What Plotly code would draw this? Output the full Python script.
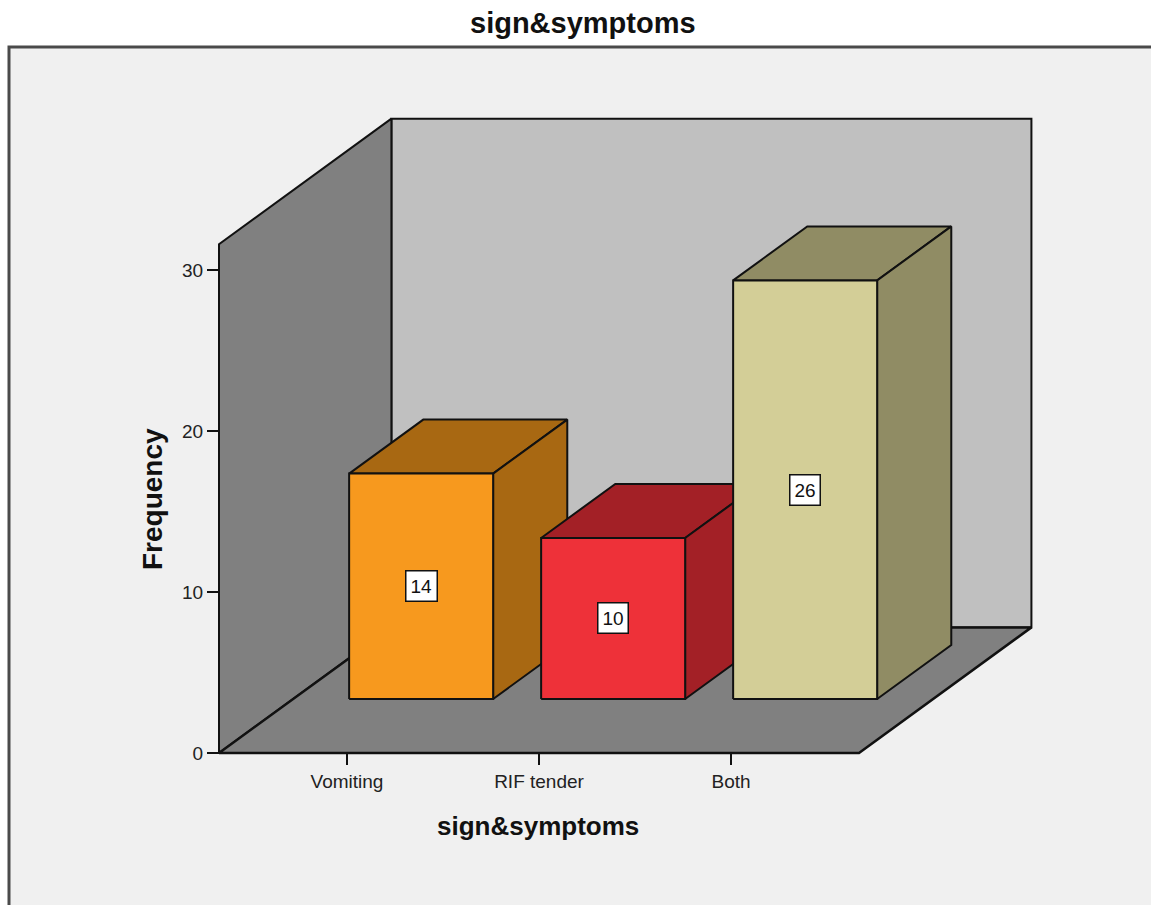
import plotly.graph_objects as go

# ---- data ----
categories = ["Vomiting", "RIF tender", "Both"]
frequency = [14, 10, 26]
y_ticks = [0, 10, 20, 30]

# ---- styling ----
front_colors = ["#f7991e", "#ee3139", "#d3ce97"]
shade_colors = ["#a86812", "#a32026", "#908c64"]
WALL_LEFT = "#808080"
WALL_BACK = "#c0c0c0"
FLOOR = "#808080"
EDGE = "#111111"
FONT = "Liberation Sans, Arial, sans-serif"

# ---- 3D box geometry (in axis units) ----
WALL_TOP = 31.6          # height of the chart box
DEPTH_X = 0.898          # oblique depth shift along x
DEPTH_Y = 7.80           # oblique depth shift along y
FLOOR_X0, FLOOR_X1 = -2 / 3, 2 + 2 / 3
BAR_W = 0.75
BAR_FRONT = 0.43         # depth fraction of bar front face
BAR_BACK = 0.86          # depth fraction of bar back face

X_MIN, X_MAX = -0.75, 3.7083
Y_MIN, Y_MAX = -0.5, 40.0

W, H = 1151, 905
M = dict(l=203, r=92, t=109, b=144)


def px_x(px):
    return (px - M["l"]) / (W - M["l"] - M["r"])


def px_y(py):
    return (H - M["b"] - py) / (H - M["t"] - M["b"])


def face(xs, ys, fill, lw=2.0):
    return go.Scatter(
        x=xs + [xs[0]], y=ys + [ys[0]], mode="lines", fill="toself",
        fillcolor=fill, line=dict(color=EDGE, width=lw),
        hoverinfo="skip", showlegend=False,
    )


fig = go.Figure()

# back wall
fig.add_trace(face(
    [FLOOR_X0 + DEPTH_X, FLOOR_X1 + DEPTH_X, FLOOR_X1 + DEPTH_X, FLOOR_X0 + DEPTH_X],
    [DEPTH_Y, DEPTH_Y, WALL_TOP + DEPTH_Y, WALL_TOP + DEPTH_Y], WALL_BACK))
# left wall
fig.add_trace(face(
    [FLOOR_X0, FLOOR_X0 + DEPTH_X, FLOOR_X0 + DEPTH_X, FLOOR_X0],
    [0, DEPTH_Y, WALL_TOP + DEPTH_Y, WALL_TOP], WALL_LEFT))
# floor
fig.add_trace(face(
    [FLOOR_X0, FLOOR_X1, FLOOR_X1 + DEPTH_X, FLOOR_X0 + DEPTH_X],
    [0, 0, DEPTH_Y, DEPTH_Y], FLOOR, lw=2.5))

fx, fy = BAR_FRONT * DEPTH_X, BAR_FRONT * DEPTH_Y
bx, by = BAR_BACK * DEPTH_X, BAR_BACK * DEPTH_Y
annotations = []
for i, (cat, v) in enumerate(zip(categories, frequency)):
    L, R = i - BAR_W / 2, i + BAR_W / 2
    # top face
    fig.add_trace(face([L + fx, R + fx, R + bx, L + bx],
                       [fy + v, fy + v, by + v, by + v], shade_colors[i]))
    # side face
    fig.add_trace(face([R + fx, R + bx, R + bx, R + fx],
                       [fy, by, by + v, fy + v], shade_colors[i]))
    # front face
    fig.add_trace(face([L + fx, R + fx, R + fx, L + fx],
                       [fy, fy, fy + v, fy + v], front_colors[i]))
    annotations.append(dict(
        x=i + fx, y=fy + v / 2, xref="x", yref="y", text=str(v),
        showarrow=False, bgcolor="white", bordercolor=EDGE,
        borderwidth=1.5, borderpad=4,
        font=dict(family=FONT, size=19, color="#111"),
    ))

# titles
annotations += [
    dict(x=px_x(582.5), y=px_y(23), xref="paper", yref="paper",
         text="<b>sign&symptoms</b>", showarrow=False,
         xanchor="center", yanchor="middle",
         font=dict(family=FONT, size=29, color="#111")),
    dict(x=px_x(537.5), y=px_y(826), xref="paper", yref="paper",
         text="<b>sign&symptoms</b>", showarrow=False,
         xanchor="center", yanchor="middle",
         font=dict(family=FONT, size=26, color="#111")),
    dict(x=px_x(152), y=px_y(499), xref="paper", yref="paper",
         text="<b>Frequency</b>", showarrow=False, textangle=-90,
         xanchor="center", yanchor="middle",
         font=dict(family=FONT, size=28, color="#111")),
]

fig.update_layout(
    width=W, height=H, margin=M,
    paper_bgcolor="white", plot_bgcolor="rgba(0,0,0,0)",
    showlegend=False,
    annotations=annotations,
    shapes=[dict(
        type="rect", xref="paper", yref="paper", layer="below",
        x0=px_x(9), x1=px_x(1175), y0=px_y(47), y1=px_y(940),
        fillcolor="#f0f0f0", line=dict(color="#4a4a4a", width=3),
    )],
    xaxis=dict(
        range=[X_MIN, X_MAX], domain=[0, 1], anchor="free",
        position=(0 - Y_MIN) / (Y_MAX - Y_MIN),
        tickmode="array", tickvals=list(range(len(categories))),
        ticktext=categories, ticks="outside", ticklen=11, tickwidth=2,
        tickcolor=EDGE, showgrid=False, zeroline=False, showline=False,
        tickfont=dict(family=FONT, size=19, color="#222"),
    ),
    yaxis=dict(
        range=[Y_MIN, Y_MAX], domain=[0, 1], anchor="free",
        position=(FLOOR_X0 - X_MIN) / (X_MAX - X_MIN),
        tickmode="array", tickvals=y_ticks, ticks="outside",
        ticklen=12, tickwidth=2, tickcolor=EDGE,
        showgrid=False, zeroline=False, showline=False,
        tickfont=dict(family=FONT, size=19, color="#222"),
    ),
)

fig.write_html("out.html")
